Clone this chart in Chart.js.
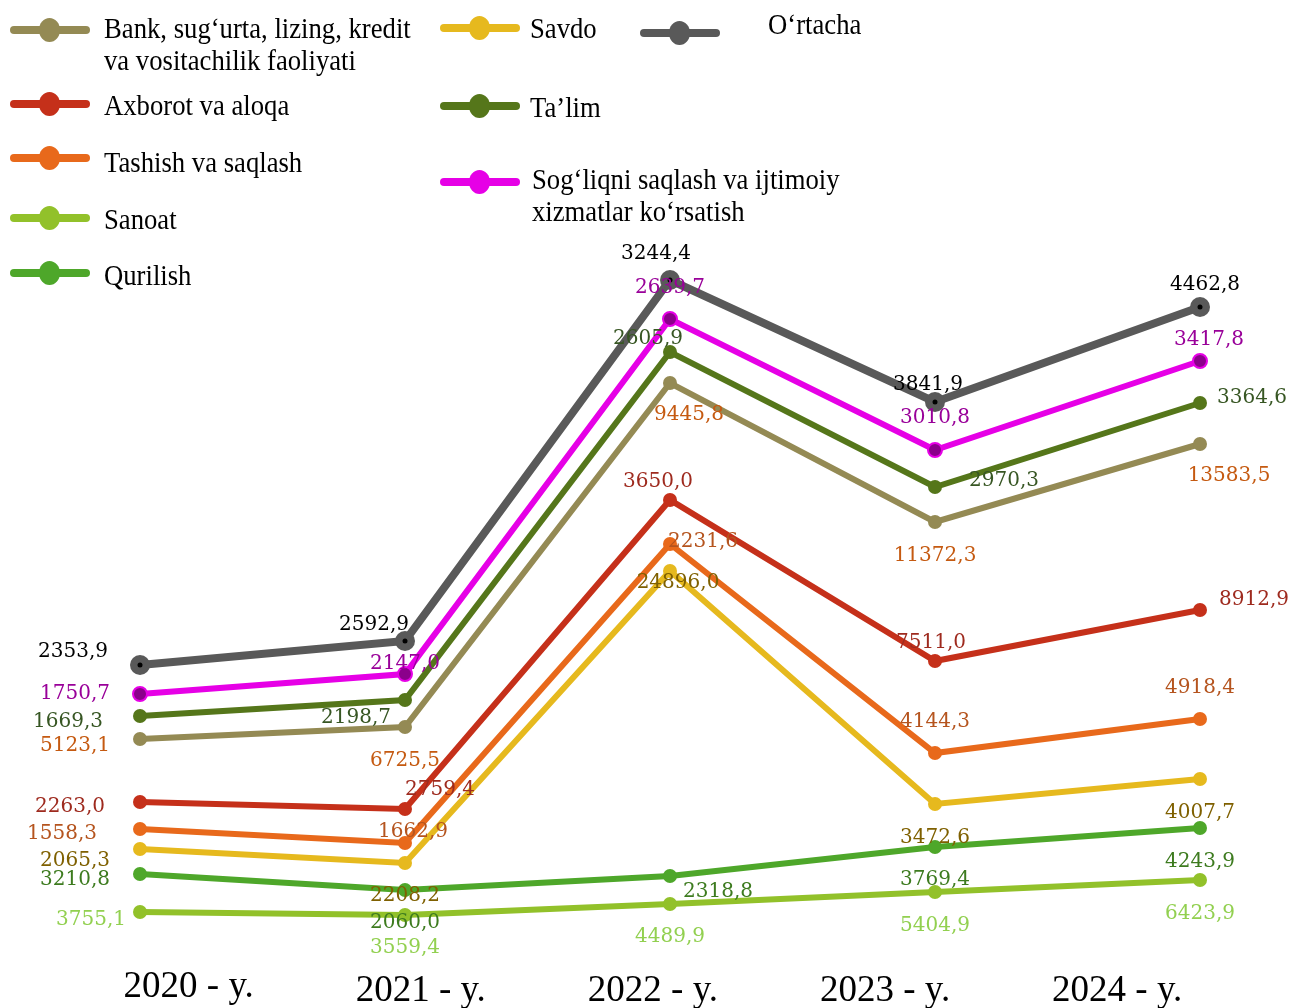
<!DOCTYPE html>
<html>
<head>
<meta charset="utf-8">
<script src="https://cdn.jsdelivr.net/npm/chart.js@4/dist/chart.umd.min.js"></script>
<style>
    body { margin: 0; background: #fff; }
    #wrap { position: relative; width: 1290px; height: 1008px; }
    #chart { position: absolute; left: 0; top: 0; }
    .leg { position: absolute; font-family: "Liberation Serif", "Times New Roman", serif; font-size: 29px; line-height: 32px; color: #000; transform: scaleX(0.92); transform-origin: left center; white-space: nowrap; }
    .mark { position: absolute; width: 80px; height: 8px; border-radius: 4px; }
    .mark::after { content: ''; position: absolute; left: 29px; top: -8px; width: 21px; height: 24px; border-radius: 50%; background: inherit; }
</style>
</head>
<body>
<div id="wrap">
    <canvas id="chart" width="1290" height="1008"></canvas>
    <div id="legend"></div>
</div>
<script>
const years = ['2020 - y.', '2021 - y.', '2022 - y.', '2023 - y.', '2024 - y.'];

const seriesNames = [
    'O‘rtacha',
    'Sog‘liqni saqlash va ijtimoiy xizmatlar ko‘rsatish',
    'Ta’lim',
    'Bank, sug‘urta, lizing, kredit va vositachilik faoliyati',
    'Axborot va aloqa',
    'Tashish va saqlash',
    'Savdo',
    'Qurilish',
    'Sanoat'
];

// plotted levels (the chart's own hidden scale)
const ortachaLevel = [343, 367, 728, 606, 701];
const sogliqLevel  = [314, 334, 689, 558, 647];
const talimLevel   = [292, 308, 656, 521, 605];
const bankLevel    = [269, 281, 625, 486, 564];
const axborotLevel = [206, 199, 508, 347, 398];
const tashishLevel = [179, 165, 464, 255, 289];
const savdoLevel   = [159, 145, 437, 204, 229];
const qurilishLevel = [134, 118, 132, 161, 180];
const sanoatLevel  = [96, 93, 104, 116, 128];

// value labels as printed
const ortachaLabels = ['2353,9', '2592,9', '3244,4', '3841,9', '4462,8'];
const sogliqLabels  = ['1750,7', '2147,0', '2639,7', '3010,8', '3417,8'];
const talimLabels   = ['1669,3', '2198,7', '2605,9', '2970,3', '3364,6'];
const bankLabels    = ['5123,1', '6725,5', '9445,8', '11372,3', '13583,5'];
const axborotLabels = ['2263,0', '2759,4', '3650,0', '7511,0', '8912,9'];
const tashishLabels = ['1558,3', '1662,9', '2231,6', '4144,3', '4918,4'];
const savdoLabels   = ['2065,3', '2208,2', '24896,0', '3472,6', '4007,7'];
const qurilishLabels = ['3210,8', '2060,0', '2318,8', '3769,4', '4243,9'];
const sanoatLabels  = ['3755,1', '3559,4', '4489,9', '5404,9', '6423,9'];

const levels = [ortachaLevel, sogliqLevel, talimLevel, bankLevel, axborotLevel, tashishLevel, savdoLevel, qurilishLevel, sanoatLevel];
const labels = [ortachaLabels, sogliqLabels, talimLabels, bankLabels, axborotLabels, tashishLabels, savdoLabels, qurilishLabels, sanoatLabels];

// styles
const lineColors  = ['#595959', '#e600e6', '#55761a', '#948a54', '#c5301a', '#e8691b', '#e6b91e', '#4ea72a', '#92c12a'];
const labelColors = ['#000000', '#990099', '#375623', '#c55a11', '#9e2a1e', '#b5541e', '#7f6000', '#3d7b1f', '#92d050'];

// label offsets from each point
const labelOffsets = [
    [[-67, -13], [-31, -16], [-14, -26], [-7, -17], [5, -22]],
    [[-65, 0], [0, -10], [0, -31], [0, -32], [9, -21]],
    [[-72, 6], [-49, 18], [-22, -13], [69, -6], [52, -5]],
    [[-65, 7], [0, 34], [19, 32], [0, 34], [29, 32]],
    [[-70, 5], [35, -19], [-12, -18], [-4, -18], [54, -10]],
    [[-78, 5], [8, -11], [33, -2], [0, -31], [0, -31]],
    [[-65, 12], [0, 33], [8, 12], [0, 34], [0, 34]],
    [[-65, 6], [0, 33], [48, 16], [0, 33], [0, 34]],
    [[-49, 8], [0, 33], [0, 33], [0, 34], [0, 34]]
];

// legend: [series index, left, top of marker, text left, text top, text]
const legendItems = [
    [3, 10, 26, 104, 12, 'Bank, sug‘urta, lizing, kredit<br>va vositachilik faoliyati'],
    [4, 10, 100, 104, 89, 'Axborot va aloqa'],
    [5, 10, 154, 104, 146, 'Tashish va saqlash'],
    [8, 10, 214, 104, 203, 'Sanoat'],
    [7, 10, 269, 104, 259, 'Qurilish'],
    [6, 440, 24, 530, 12, 'Savdo'],
    [2, 440, 102, 530, 91, 'Ta’lim'],
    [1, 440, 178, 532, 163, 'Sog‘liqni saqlash va ijtimoiy<br>xizmatlar ko‘rsatish'],
    [0, 640, 29, 768, 8, 'O‘rtacha']
];

const legend = document.getElementById('legend');
legendItems.forEach(item => {
    const m = document.createElement('div');
    m.className = 'mark';
    m.style.left = item[1] + 'px';
    m.style.top = item[2] + 'px';
    m.style.background = lineColors[item[0]];
    legend.appendChild(m);
    const t = document.createElement('div');
    t.className = 'leg';
    t.style.left = item[3] + 'px';
    t.style.top = item[4] + 'px';
    t.innerHTML = item[5];
    legend.appendChild(t);
});

const datasets = levels.map((lv, i) => ({
    label: seriesNames[i],
    data: lv,
    borderColor: lineColors[i],
    backgroundColor: i === 1 ? '#8b008b' : lineColors[i],
    pointBorderColor: lineColors[i],
    pointBorderWidth: i === 1 ? 2 : 0,
    pointRadius: i === 0 ? 10 : 7,
    borderWidth: i === 0 ? 8 : 6,
    tension: 0,
    clip: false,
    valueLabels: labels[i],
    labelColor: labelColors[i],
    labelOffsets: labelOffsets[i]
}));

const valueLabels = {
    id: 'valueLabels',
    afterDatasetsDraw(chart) {
        const ctx = chart.ctx;
        ctx.save();
        // centre dot on average points
        chart.getDatasetMeta(0).data.forEach(pt => {
            ctx.beginPath();
            ctx.arc(pt.x, pt.y, 2.5, 0, Math.PI * 2);
            ctx.fillStyle = '#000';
            ctx.fill();
        });
        ctx.font = '20px "DejaVu Serif"';
        ctx.textAlign = 'center';
        ctx.textBaseline = 'middle';
        chart.data.datasets.forEach((ds, di) => {
            chart.getDatasetMeta(di).data.forEach((pt, i) => {
                const off = ds.labelOffsets[i];
                ctx.fillStyle = ds.labelColor;
                ctx.fillText(ds.valueLabels[i], pt.x + off[0], pt.y + off[1]);
            });
        });
        // year labels along the bottom
        const xs = chart.scales.x;
        ctx.font = '37px "Liberation Serif"';
        ctx.fillStyle = '#000';
        years.forEach((y, i) => {
            const px = xs.getPixelForValue(i) * 0.876 + 66;
            ctx.fillText(y, px, i === 0 ? 987 : 991);
        });
        ctx.restore();
    }
};

new Chart(document.getElementById('chart'), {
    type: 'line',
    data: { labels: years, datasets: datasets },
    options: {
        responsive: false,
        animation: false,
        layout: { autoPadding: false, padding: { left: 140, right: 90, top: 0, bottom: 0 } },
        scales: {
            x: { display: false, offset: false },
            y: { display: false, min: 0, max: 1008 }
        },
        plugins: {
            legend: { display: false },
            tooltip: { enabled: false }
        }
    },
    plugins: [valueLabels]
});
</script>
</body>
</html>
